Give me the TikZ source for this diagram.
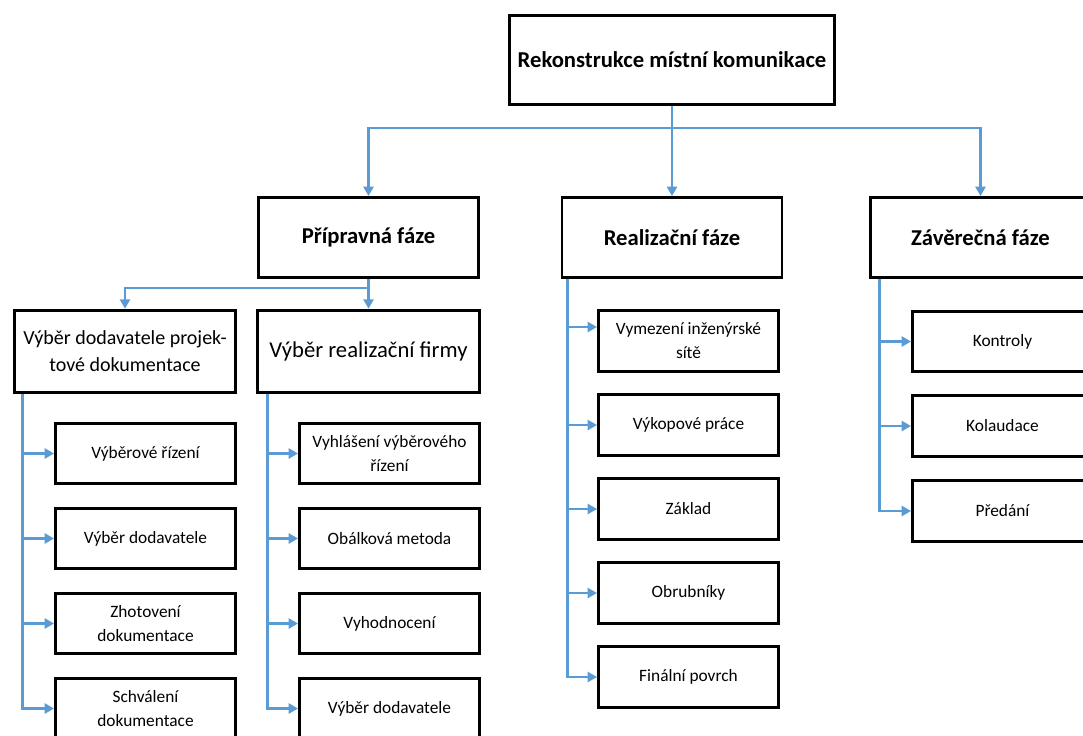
\documentclass[tikz,border=0pt]{standalone}
\usepackage{fontspec}
\setmainfont{Carlito}
\usepackage{xcolor}
\definecolor{wdblue}{RGB}{91,155,213}
\usetikzlibrary{arrows.meta,positioning,calc}

\begin{document}
\begin{tikzpicture}[x=0.75pt, y=-0.75pt,
    box/.style={rectangle, draw=black, line width=2.2pt, fill=white,
                align=center, inner sep=2pt},
    topbox/.style={box, minimum width=244pt, minimum height=67pt,
                   font=\fontsize{17}{20}\selectfont\bfseries},
    phase/.style={box, minimum width=165pt, minimum height=60pt,
                  font=\fontsize{17}{20}\selectfont\bfseries},
    grp/.style={box, minimum width=166pt, minimum height=62pt,
                font=\fontsize{17}{20.25}\selectfont},
    task/.style={box, minimum width=135pt, minimum height=45.5pt,
                 font=\fontsize{13}{18}\selectfont},
    link/.style={draw=wdblue, line width=2.2pt},
    arr/.style={link, -{Triangle[length=7pt, width=7.5pt]}}
  ]
    \useasboundingbox (0,0) rectangle (1083,736);

    % Root
    \node[topbox] (root) at (672,60) {Rekonstrukce místní komunikace};

    % Phases
    \node[phase] (prip) at (368.5,237.5) {Přípravná fáze};
    \node[phase] (real) at (672,237.5) {Realizační fáze};
    \node[phase] (zav)  at (980.5,237.5) {Závěrečná fáze};

    % Preparation: two groups
    \node[grp, font=\fontsize{15}{20.25}\selectfont] (vdp) at (125,351.5)
        {Výběr dodavatele projek-\\tové dokumentace};
    \node[grp] (vrf) at (368.5,351.5) {Výběr realizační firmy};

    % Tasks under vdp
    \node[task] (vdp1) at (145.5,453.5) {Výběrové řízení};
    \node[task] (vdp2) at (145.5,538.5) {Výběr dodavatele};
    \node[task] (vdp3) at (145.5,623.5) {Zhotovení\\dokumentace};
    \node[task] (vdp4) at (145.5,708.5) {Schválení\\dokumentace};

    % Tasks under vrf
    \node[task] (vrf1) at (389.5,453.5) {Vyhlášení výběrového\\řízení};
    \node[task] (vrf2) at (389.5,538.5) {Obálková metoda};
    \node[task] (vrf3) at (389.5,623.5) {Vyhodnocení};
    \node[task] (vrf4) at (389.5,708.5) {Výběr dodavatele};

    % Tasks under real
    \node[task] (real1) at (688.5,341) {Vymezení inženýrské\\sítě};
    \node[task] (real2) at (688.5,425) {Výkopové práce};
    \node[task] (real3) at (688.5,509) {Základ};
    \node[task] (real4) at (688.5,593) {Obrubníky};
    \node[task] (real5) at (688.5,677) {Finální povrch};

    % Tasks under zav
    \node[task] (zav1) at (1002.5,341.5) {Kontroly};
    \node[task] (zav2) at (1002.5,426) {Kolaudace};
    \node[task] (zav3) at (1002.5,511) {Předání};

    % Root to phases
    \coordinate (j0) at (672,128);
    \draw[link] (root.south) -- (j0);
    \draw[arr] (j0) -| (prip.north);
    \draw[arr] (j0) -- (real.north);
    \draw[arr] (j0) -| (zav.north);

    % Preparation to groups
    \coordinate (j1) at (368.5,288);
    \draw[link] (prip.south) -- (j1);
    \draw[arr] (j1) -| (vdp.north);
    \draw[arr] (j1) -- (vrf.north);

    % Spines
    \coordinate (s1) at ($(vdp.south west)+(10,0)$);
    \coordinate (s2) at ($(vrf.south west)+(11,0)$);
    \coordinate (s3) at ($(real.south west)+(7,0)$);
    \coordinate (s4) at ($(zav.south west)+(10,0)$);

    \draw[arr] (s1) |- (vdp1.west);
    \draw[arr] (s1) |- (vdp2.west);
    \draw[arr] (s1) |- (vdp3.west);
    \draw[arr] (s1) |- (vdp4.west);

    \draw[arr] (s2) |- (vrf1.west);
    \draw[arr] (s2) |- (vrf2.west);
    \draw[arr] (s2) |- (vrf3.west);
    \draw[arr] (s2) |- (vrf4.west);

    \draw[arr] (s3) |- ($(real1.west)+(0,-14)$);
    \draw[arr] (s3) |- (real2.west);
    \draw[arr] (s3) |- (real3.west);
    \draw[arr] (s3) |- (real4.west);
    \draw[arr] (s3) |- (real5.west);

    \draw[arr] (s4) |- (zav1.west);
    \draw[arr] (s4) |- (zav2.west);
    \draw[arr] (s4) |- (zav3.west);
  \end{tikzpicture}
\end{document}
